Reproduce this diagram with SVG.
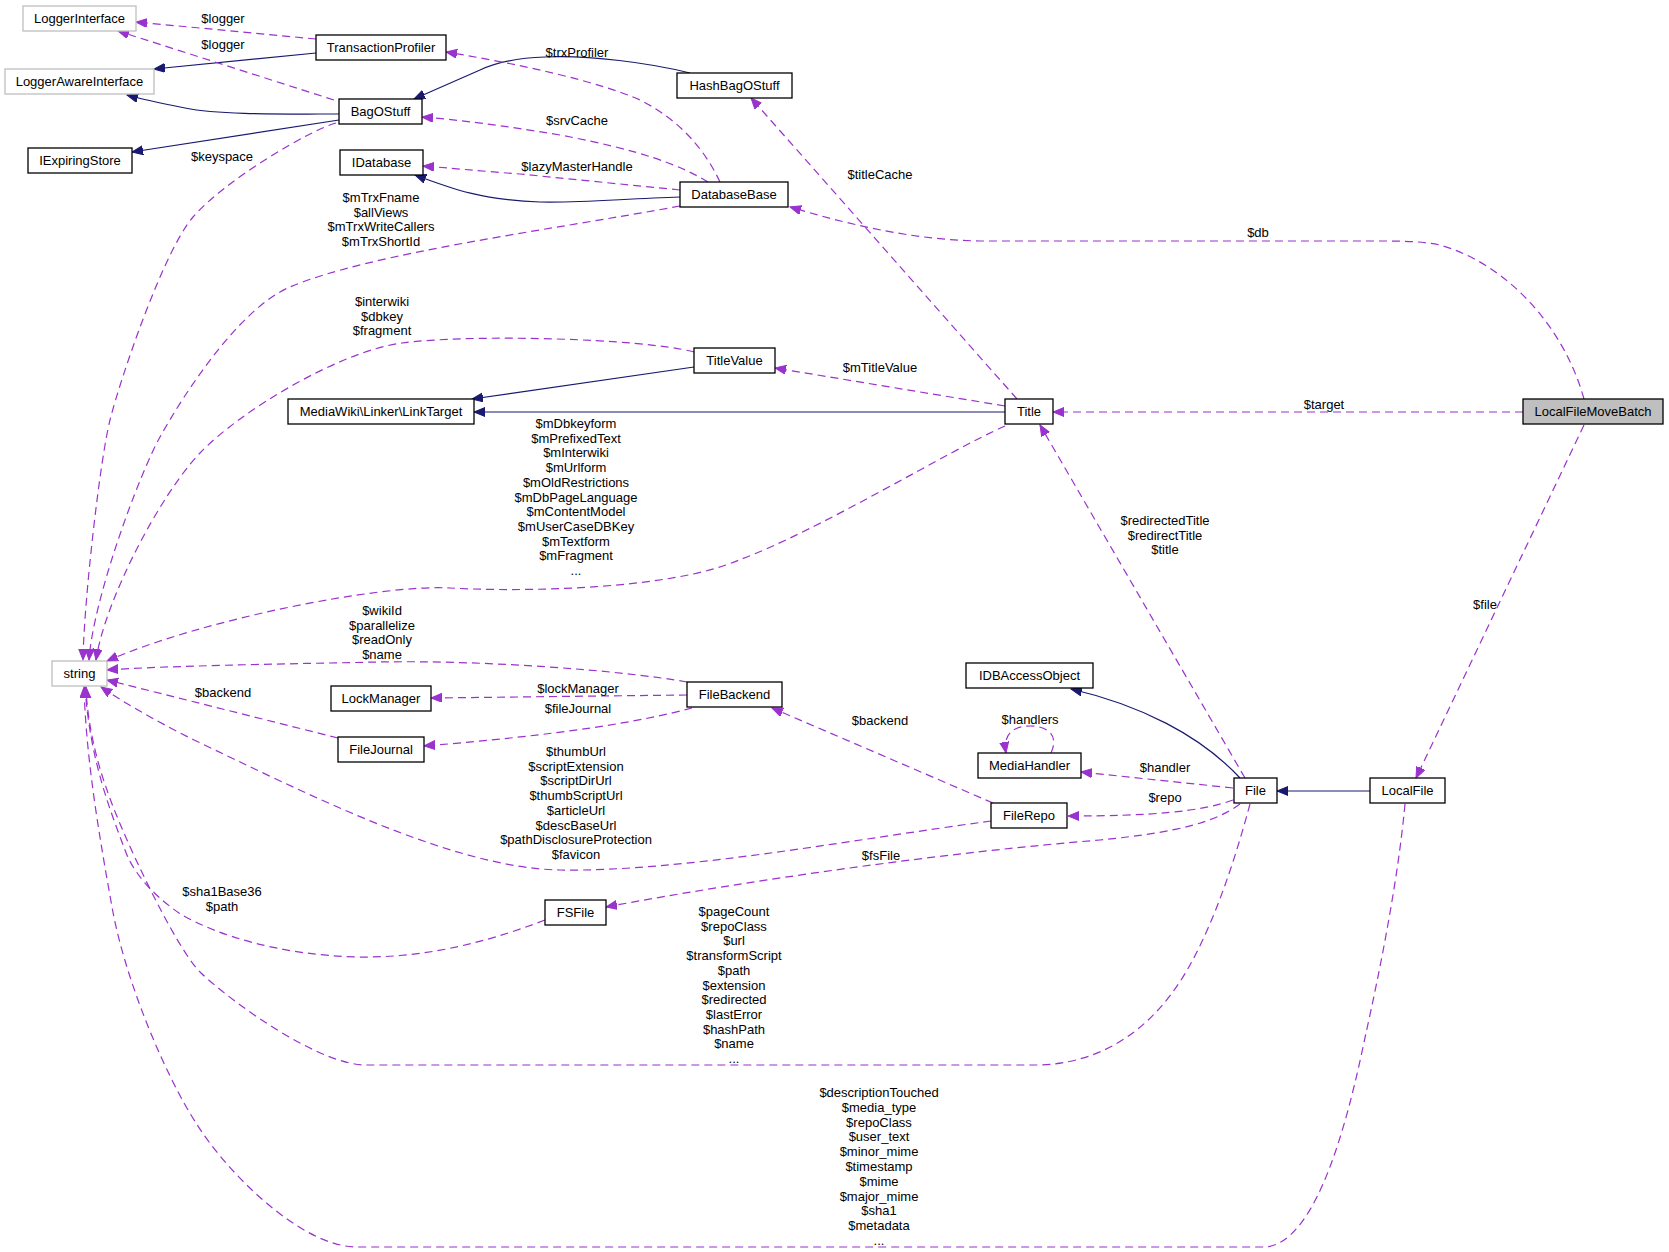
<svg xmlns="http://www.w3.org/2000/svg" width="1669" height="1252" viewBox="0 0 1669 1252">
<style>
text{font-family:"Liberation Sans",Arial,sans-serif;font-size:13px;fill:#000;text-anchor:middle}
.n rect{fill:#fff;stroke:#000;stroke-width:1.3}
.n rect.g{stroke:#bfbfbf}
.n rect.h{fill:#bfbfbf}
.inh{fill:none;stroke:#191970;stroke-width:1.2;marker-end:url(#an)}
.use{fill:none;stroke:#9a32cd;stroke-width:1.2;stroke-dasharray:8,5;marker-end:url(#ap)}
</style>
<defs>
<marker id="an" markerUnits="userSpaceOnUse" markerWidth="13" markerHeight="10" refX="11" refY="4.5" orient="auto"><path d="M0,0 L11,4.5 L0,9 z" fill="#191970" stroke="#191970"/></marker>
<marker id="ap" markerUnits="userSpaceOnUse" markerWidth="13" markerHeight="10" refX="11" refY="4.5" orient="auto"><path d="M0,0 L11,4.5 L0,9 z" fill="#9a32cd" stroke="#9a32cd"/></marker>
</defs>
<rect width="1669" height="1252" fill="#fff"/>
<g id="edges">
<path class="inh" d="M316,53 L154,69"/>
<path class="inh" d="M339,114 C280,114 220,115 185,108 C165,104 145,100 127,95"/>
<path class="inh" d="M339,120 L132,152"/>
<path class="inh" d="M690,73 C650,63 590,55 545,57 C515,58 495,63 480,70 L414,99"/>
<path class="inh" d="M680,197 C620,199 580,203 540,202 C480,200 450,188 415,175"/>
<path class="inh" d="M694,367 L472,399"/>
<path class="inh" d="M1005,412 L474,412"/>
<path class="inh" d="M1240,778 C1200,735 1140,705 1071,689"/>
<path class="inh" d="M1370,791 L1277,791"/>
<path class="use" d="M316,39 L136,22"/>
<path class="use" d="M334,100 L118,31"/>
<path class="use" d="M720,182 C705,150 680,120 640,100 C600,82 520,64 446,52"/>
<path class="use" d="M708,182 C680,165 640,150 560,135 C500,125 460,120 422,117"/>
<path class="use" d="M680,190 C620,184 560,178 520,174 C480,171 450,168 423,166"/>
<path class="use" d="M680,206 C550,230 370,253 290,287 C240,308 185,392 160,437 C138,477 93,600 89,660"/>
<path class="use" d="M336,123 C310,130 225,180 193,217 C163,252 120,380 110,420 C100,460 84,600 83,660"/>
<path class="use" d="M694,352 C640,338 470,334 402,343 C340,351 240,411 200,453 C160,495 105,600 96,660"/>
<path class="use" d="M1005,426 C950,450 820,530 739,560 C670,590 520,592 450,588 C380,584 200,620 107,661"/>
<path class="use" d="M687,682 C620,670 480,660 379,662 C280,664 160,666 107,670"/>
<path class="use" d="M687,695 L431,698"/>
<path class="use" d="M692,708 C640,722 560,735 424,746"/>
<path class="use" d="M338,738 L107,680"/>
<path class="use" d="M993,803 L772,708"/>
<path class="use" d="M991,821 C850,840 680,872 560,870 C450,868 300,790 194,740 C150,718 120,700 101,687"/>
<path class="use" d="M1233,788 L1081,772"/>
<path class="use" d="M1233,800 C1200,812 1150,816 1068,816"/>
<path class="use" d="M1240,804 C1215,822 1180,832 1100,840 C950,852 750,880 606,907"/>
<path class="use" d="M1245,778 L1040,425"/>
<path class="use" d="M1250,804 C1235,860 1215,920 1190,965 C1165,1010 1120,1062 1040,1065 L366,1065 C320,1065 235,1005 201,973 C175,948 120,830 107,790 C96,760 87,720 86,687"/>
<path class="use" d="M1405,804 C1398,880 1380,970 1366,1033 C1352,1100 1320,1247 1263,1247 L357,1247 C300,1247 225,1170 196,1123 C165,1075 125,980 112,907 C100,840 86,760 84,687"/>
<path class="use" d="M545,920 C480,945 420,958 357,957 C280,955 215,935 179,913 C150,893 132,870 125,850 C110,810 90,760 85,687"/>
<path class="use" d="M1005,406 L775,368"/>
<path class="use" d="M1017,399 L751,98"/>
<path class="use" d="M1523,412 L1053,412"/>
<path class="use" d="M1584,399 C1565,330 1510,265 1440,245 C1420,241 1400,241 1380,241 L980,241 C920,240 860,228 790,207"/>
<path class="use" d="M1584,425 L1416,778"/>
<path class="use" d="M1051,753 C1060,733 1045,726 1030,726 C1012,726 1003,735 1006,753"/>
</g>
<g id="edge-labels">
<text x="223" y="23">$logger</text>
<text x="223" y="49">$logger</text>
<text x="577" y="57">$trxProfiler</text>
<text x="577" y="125">$srvCache</text>
<text x="577" y="171">$lazyMasterHandle</text>
<text x="222" y="161">$keyspace</text>
<text x="381" y="202"><tspan x="381">$mTrxFname</tspan><tspan x="381" dy="14.5">$allViews</tspan><tspan x="381" dy="14.5">$mTrxWriteCallers</tspan><tspan x="381" dy="14.5">$mTrxShortId</tspan></text>
<text x="880" y="179">$titleCache</text>
<text x="1258" y="237">$db</text>
<text x="382" y="306"><tspan x="382">$interwiki</tspan><tspan x="382" dy="14.5">$dbkey</tspan><tspan x="382" dy="14.5">$fragment</tspan></text>
<text x="880" y="372">$mTitleValue</text>
<text x="1324" y="409">$target</text>
<text x="576" y="428"><tspan x="576">$mDbkeyform</tspan><tspan x="576" dy="14.7">$mPrefixedText</tspan><tspan x="576" dy="14.7">$mInterwiki</tspan><tspan x="576" dy="14.7">$mUrlform</tspan><tspan x="576" dy="14.7">$mOldRestrictions</tspan><tspan x="576" dy="14.7">$mDbPageLanguage</tspan><tspan x="576" dy="14.7">$mContentModel</tspan><tspan x="576" dy="14.7">$mUserCaseDBKey</tspan><tspan x="576" dy="14.7">$mTextform</tspan><tspan x="576" dy="14.7">$mFragment</tspan><tspan x="576" dy="14.7">...</tspan></text>
<text x="1165" y="525"><tspan x="1165">$redirectedTitle</tspan><tspan x="1165" dy="14.7">$redirectTitle</tspan><tspan x="1165" dy="14.7">$title</tspan></text>
<text x="1485" y="609">$file</text>
<text x="382" y="615"><tspan x="382">$wikiId</tspan><tspan x="382" dy="14.7">$parallelize</tspan><tspan x="382" dy="14.7">$readOnly</tspan><tspan x="382" dy="14.7">$name</tspan></text>
<text x="223" y="697">$backend</text>
<text x="578" y="693">$lockManager</text>
<text x="578" y="713">$fileJournal</text>
<text x="1030" y="724">$handlers</text>
<text x="880" y="725">$backend</text>
<text x="1165" y="772">$handler</text>
<text x="1165" y="802">$repo</text>
<text x="576" y="756"><tspan x="576">$thumbUrl</tspan><tspan x="576" dy="14.7">$scriptExtension</tspan><tspan x="576" dy="14.7">$scriptDirUrl</tspan><tspan x="576" dy="14.7">$thumbScriptUrl</tspan><tspan x="576" dy="14.7">$articleUrl</tspan><tspan x="576" dy="14.7">$descBaseUrl</tspan><tspan x="576" dy="14.7">$pathDisclosureProtection</tspan><tspan x="576" dy="14.7">$favicon</tspan></text>
<text x="881" y="860">$fsFile</text>
<text x="222" y="896"><tspan x="222">$sha1Base36</tspan><tspan x="222" dy="14.5">$path</tspan></text>
<text x="734" y="916"><tspan x="734">$pageCount</tspan><tspan x="734" dy="14.7">$repoClass</tspan><tspan x="734" dy="14.7">$url</tspan><tspan x="734" dy="14.7">$transformScript</tspan><tspan x="734" dy="14.7">$path</tspan><tspan x="734" dy="14.7">$extension</tspan><tspan x="734" dy="14.7">$redirected</tspan><tspan x="734" dy="14.7">$lastError</tspan><tspan x="734" dy="14.7">$hashPath</tspan><tspan x="734" dy="14.7">$name</tspan><tspan x="734" dy="14.7">...</tspan></text>
<text x="879" y="1097"><tspan x="879">$descriptionTouched</tspan><tspan x="879" dy="14.8">$media_type</tspan><tspan x="879" dy="14.8">$repoClass</tspan><tspan x="879" dy="14.8">$user_text</tspan><tspan x="879" dy="14.8">$minor_mime</tspan><tspan x="879" dy="14.8">$timestamp</tspan><tspan x="879" dy="14.8">$mime</tspan><tspan x="879" dy="14.8">$major_mime</tspan><tspan x="879" dy="14.8">$sha1</tspan><tspan x="879" dy="14.8">$metadata</tspan><tspan x="879" dy="14.8">...</tspan></text>
</g>
<g id="LoggerInterface" class="n"><rect class="g" x="23" y="6" width="113" height="25"/><text x="79.5" y="23">LoggerInterface</text></g>
<g id="TransactionProfiler" class="n"><rect x="316" y="35" width="130" height="25"/><text x="381" y="52">TransactionProfiler</text></g>
<g id="LoggerAwareInterface" class="n"><rect class="g" x="5" y="69" width="149" height="25"/><text x="79.5" y="86">LoggerAwareInterface</text></g>
<g id="BagOStuff" class="n"><rect x="339" y="99" width="83" height="25"/><text x="380.5" y="116">BagOStuff</text></g>
<g id="IExpiringStore" class="n"><rect x="28" y="148" width="104" height="25"/><text x="80" y="165">IExpiringStore</text></g>
<g id="HashBagOStuff" class="n"><rect x="677" y="73" width="115" height="25"/><text x="734.5" y="90">HashBagOStuff</text></g>
<g id="IDatabase" class="n"><rect x="340" y="150" width="83" height="25"/><text x="381.5" y="167">IDatabase</text></g>
<g id="DatabaseBase" class="n"><rect x="680" y="182" width="108" height="25"/><text x="734" y="199">DatabaseBase</text></g>
<g id="TitleValue" class="n"><rect x="694" y="348" width="81" height="25"/><text x="734.5" y="365">TitleValue</text></g>
<g id="LinkTarget" class="n"><rect x="288" y="399" width="186" height="25"/><text x="381" y="416">MediaWiki\Linker\LinkTarget</text></g>
<g id="Title" class="n"><rect x="1005" y="399" width="48" height="25"/><text x="1029" y="416">Title</text></g>
<g id="LocalFileMoveBatch" class="n"><rect class="h" x="1523" y="399" width="140" height="25"/><text x="1593" y="416">LocalFileMoveBatch</text></g>
<g id="string" class="n"><rect class="g" x="52" y="661" width="55" height="25"/><text x="79.5" y="678">string</text></g>
<g id="LockManager" class="n"><rect x="331" y="686" width="100" height="25"/><text x="381" y="703">LockManager</text></g>
<g id="FileBackend" class="n"><rect x="687" y="682" width="95" height="25"/><text x="734.5" y="699">FileBackend</text></g>
<g id="FileJournal" class="n"><rect x="338" y="737" width="86" height="25"/><text x="381" y="754">FileJournal</text></g>
<g id="IDBAccessObject" class="n"><rect x="966" y="663" width="127" height="25"/><text x="1029.5" y="680">IDBAccessObject</text></g>
<g id="MediaHandler" class="n"><rect x="978" y="753" width="103" height="25"/><text x="1029.5" y="770">MediaHandler</text></g>
<g id="FileRepo" class="n"><rect x="991" y="803" width="76" height="25"/><text x="1029" y="820">FileRepo</text></g>
<g id="File" class="n"><rect x="1234" y="778" width="43" height="25"/><text x="1255.5" y="795">File</text></g>
<g id="LocalFile" class="n"><rect x="1370" y="778" width="75" height="25"/><text x="1407.5" y="795">LocalFile</text></g>
<g id="FSFile" class="n"><rect x="545" y="900" width="61" height="25"/><text x="575.5" y="917">FSFile</text></g>
</svg>
